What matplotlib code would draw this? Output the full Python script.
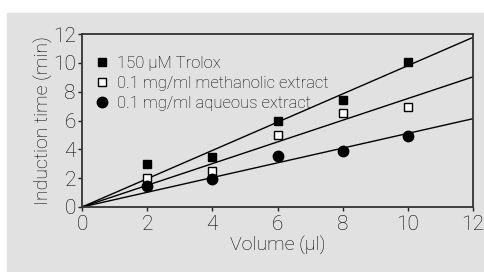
import numpy as np
import matplotlib
matplotlib.use("Agg")
import matplotlib.pyplot as plt
from matplotlib.patches import Rectangle

# data
volume = [2, 4, 6, 8, 10]
trolox = [3.0, 3.5, 6.0, 7.4, 10.05]
methanolic = [2.0, 2.5, 5.0, 6.5, 6.95]
aqueous = [1.45, 1.95, 3.55, 3.85, 4.95]
labels = ["150 \u00b5M Trolox", "0.1 mg/ml methanolic extract", "0.1 mg/ml aqueous extract"]
ticks = [0, 2, 4, 6, 8, 10, 12]

plt.rcParams['font.family'] = ['Roboto', 'DejaVu Sans']
plt.rcParams['font.weight'] = 'light'
plt.rcParams['axes.labelweight'] = 'light'

fig = plt.figure(figsize=(4.85, 2.72), dpi=100, facecolor='white')
fig.patches.append(Rectangle((7 / 485, 1 / 272), 1, (272 - 14) / 272,
                             transform=fig.transFigure, color='#e1e1e1', zorder=-1))
ax = fig.add_axes([82 / 485, (272 - 207) / 272, (473 - 82) / 485, (207 - 34) / 272])
ax.set_facecolor('#e1e1e1')

x = np.array(volume, dtype=float)
xx = np.array([0, 12])
styles = [dict(marker='s', mfc='black', mec='black', ms=5.2),
          dict(marker='s', mfc='white', mec='black', ms=6, mew=1.0),
          dict(marker='o', mfc='black', mec='black', ms=7.5)]
for y, lab, st in zip([trolox, methanolic, aqueous], labels, styles):
    y = np.array(y)
    slope = (x @ y) / (x @ x)  # least squares through the origin
    ax.plot(xx, slope * xx, color='black', lw=1.0)
    ax.plot(x, y, ls='none', label=lab, **st)

ax.set_xlim(0, 12)
ax.set_ylim(0, 12)
ax.set_xticks(ticks)
ax.set_yticks(ticks)
ax.tick_params(labelsize=15, length=3, width=1, color='#222222')
ax.tick_params(axis='x', pad=3)
ax.tick_params(axis='y', pad=1.5)
for s in ax.spines.values():
    s.set_color('#333333')
    s.set_linewidth(1.3)
ax.set_xlabel('Volume (\u00b5l)', fontsize=14, labelpad=1)
ax.set_ylabel('Induction time (min)', fontsize=14, labelpad=0)

ax.legend(loc='upper left', frameon=False, fontsize=12, handlelength=0.8,
          handletextpad=0.5, borderaxespad=0.3, labelspacing=0.3,
          bbox_to_anchor=(0.005, 0.94))

fig.savefig('out.png', dpi=100, facecolor=fig.get_facecolor())
